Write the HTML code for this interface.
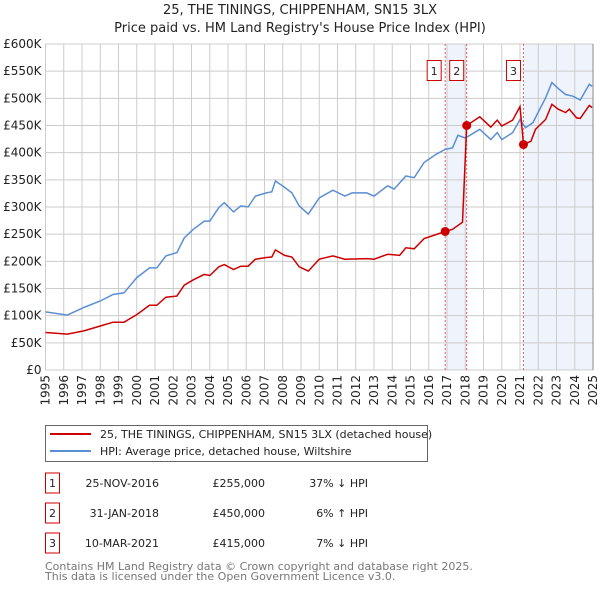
<!DOCTYPE html>
<html><head><meta charset="utf-8"><style>
body{margin:0;background:#fff;font-family:"DejaVu Sans","Liberation Sans",sans-serif;}
svg text{font-family:"DejaVu Sans","Liberation Sans",sans-serif;}
</style></head><body>
<svg id="chart" width="600" height="590" xmlns="http://www.w3.org/2000/svg">
<text x="300" y="14" text-anchor="middle" font-size="13" fill="#222">25, THE TININGS, CHIPPENHAM, SN15 3LX</text>
<text x="300" y="32" text-anchor="middle" font-size="13" fill="#222">Price paid vs. HM Land Registry's House Price Index (HPI)</text>
<g id="plot"></g>
<g>
<rect x="45.5" y="425.5" width="382" height="36" fill="#fff" stroke="#666"/>
<line x1="50" y1="434" x2="91" y2="434" stroke="#cc0000" stroke-width="2"/>
<text x="100" y="438" font-size="11" fill="#222">25, THE TININGS, CHIPPENHAM, SN15 3LX (detached house)</text>
<line x1="50" y1="451" x2="91" y2="451" stroke="#5b8fd4" stroke-width="2"/>
<text x="100" y="455" font-size="11" fill="#222">HPI: Average price, detached house, Wiltshire</text>
</g>
<g id="table" font-size="11" fill="#222"></g>
<text x="45" y="570" font-size="11" fill="#777">Contains HM Land Registry data © Crown copyright and database right 2025.</text>
<text x="45" y="580" font-size="11" fill="#777">This data is licensed under the Open Government Licence v3.0.</text>
</svg>
<script>
const hpiYears=[1995,1996.2,1997.1,1998,1998.7,1999.3,2000,2000.7,2001.1,2001.6,2002.2,2002.6,2003.1,2003.7,2004,2004.5,2004.8,2005.3,2005.7,2006.1,2006.5,2007.1,2007.4,2007.6,2008.1,2008.5,2008.9,2009.4,2010,2010.75,2011.4,2011.8,2012.6,2013,2013.75,2014.1,2014.75,2015.2,2015.75,2016.4,2016.9,2017.3,2017.6,2018,2018.8,2019.4,2019.75,2020,2020.6,2021,2021.3,2021.7,2022.4,2022.75,2023.1,2023.5,2023.9,2024.3,2024.8,2024.95];
const hpiValues=[107,101,115,127,139,142,170,188,188,210,216,243,259,274,274,299,308,291,302,300,320,326,328,348,336,326,302,287,317,331,320,326,326,320,339,333,357,354,382,397,406,409,432,427,443,424,437,424,437,461,446,455,501,529,518,507,504,497,526,522];
const paidYears=[1995,1996.2,1997.1,1998,1998.7,1999.3,2000,2000.7,2001.1,2001.6,2002.2,2002.6,2003.1,2003.7,2004,2004.5,2004.8,2005.3,2005.7,2006.1,2006.5,2007.1,2007.4,2007.6,2008.1,2008.5,2008.9,2009.4,2010,2010.75,2011.4,2012.6,2013,2013.75,2014.4,2014.75,2015.2,2015.75,2016.9,2017.3,2017.85,2018.08,2018.8,2019.4,2019.75,2020,2020.6,2021,2021.19,2021.6,2021.85,2022.4,2022.75,2023.1,2023.5,2023.7,2024.1,2024.3,2024.8,2024.95];
const paidValues=[69,66,72,81,88,88,102,119,119,134,136,156,166,176,174,190,194,185,191,191,204,207,208,221,211,208,190,182,204,210,204,205,204,213,211,225,223,242,255,259,272,450,466,447,460,449,460,485,415,421,443,461,489,480,474,480,464,463,487,483];
const saleYears=[2016.9,2018.08,2021.19];
const saleValues=[255,450,415];
const saleLabels=["1","2","3"];
const saleDates=["25-NOV-2016","31-JAN-2018","10-MAR-2021"];
const salePrices=["£255,000","£450,000","£415,000"];
const saleHpi=["37% ↓ HPI","6% ↑ HPI","7% ↓ HPI"];
const yTicks=[0,50,100,150,200,250,300,350,400,450,500,550,600];
const xTicks=[1995,1996,1997,1998,1999,2000,2001,2002,2003,2004,2005,2006,2007,2008,2009,2010,2011,2012,2013,2014,2015,2016,2017,2018,2019,2020,2021,2022,2023,2024,2025];

const NS="http://www.w3.org/2000/svg";
const X0=45.5,X1=593,Y0=370,Y1=44;
const xs=y=>X0+(y-1995)/30*(X1-X0);
const ys=v=>Y0-v/600*(Y0-Y1);
const plot=document.getElementById('plot');
function mk(t,a,p){const e=document.createElementNS(NS,t);for(const k in a)e.setAttribute(k,a[k]);(p||plot).appendChild(e);return e;}
// shading
let s1=mk('rect',{x:xs(saleYears[0]),y:Y1,width:xs(saleYears[1])-xs(saleYears[0]),height:Y0-Y1,fill:'#eef3fc'});


let s2=mk('rect',{x:xs(saleYears[2]),y:Y1,width:X1-xs(saleYears[2]),height:Y0-Y1,fill:'#eef3fc'});


// grid
yTicks.forEach(v=>{
 let l=mk('line',{x1:X0,x2:X1,y1:ys(v),y2:ys(v),stroke:'#ccc'});
 
 
 let t=mk('text',{x:X0-4,y:ys(v)+4,'text-anchor':'end','font-size':'12',fill:'#222'});
 
 
 t.textContent=v===0?'£0':'£'+v+'K';
});
xTicks.forEach(y=>{
 let l=mk('line',{x1:xs(y),x2:xs(y),y1:Y1,y2:Y0,stroke:'#ccc'});
 
 
 let t=mk('text',{x:0,y:0,'font-size':'12',fill:'#222','text-anchor':'end',transform:`translate(${xs(y)+4},${Y0+5}) rotate(-90)`});
 
 
 t.textContent=y;
});
mk('line',{x1:X1,x2:X1,y1:Y1,y2:Y0,stroke:'#888'});
// sale vlines
saleYears.forEach((y,i)=>{
 let l=mk('line',{x1:xs(y),x2:xs(y),y1:Y1,y2:Y0,stroke:'#e06060','stroke-dasharray':'2,2'});
 
 
 let bx=xs(y)-(i==0?11:i==1?10:10);
 let g=mk('g',{});
 
 
 mk('rect',{x:bx-7,y:60.5,width:14,height:20,fill:'#fff',stroke:'#cc0000'},g);
 let t=mk('text',{x:bx,y:75,'text-anchor':'middle','font-size':'11',fill:'#222'},g);t.textContent=saleLabels[i];
});
function path(xa,va,col,name){
 let d=xa.map((y,i)=>(i?'L':'M')+xs(y).toFixed(1)+','+ys(va[i]).toFixed(1)).join('');
 let p=mk('path',{d,fill:'none',stroke:col,'stroke-width':'1.5'});
 
 
}
path(hpiYears,hpiValues,'#5b8fd4','hpi-line');
path(paidYears,paidValues,'#cc0000','price-paid-line');
saleYears.forEach((y,i)=>{
 let c=mk('circle',{cx:xs(y),cy:ys(saleValues[i]),r:4.5,fill:'#cc0000'});
 
 
});
// table
const tb=document.getElementById('table');
saleYears.forEach((y,i)=>{
 const cy=483+i*30;
 let g=mk('g',{},tb);
 
 
 mk('rect',{x:45.5,y:cy-10,width:14,height:20,fill:'#fff',stroke:'#cc0000'},g);
 let a=mk('text',{x:52.5,y:cy+4,'text-anchor':'middle'},g);a.textContent=saleLabels[i];
 let b=mk('text',{x:159,y:cy+4,'text-anchor':'end'},g);b.textContent=saleDates[i];
 let c=mk('text',{x:265,y:cy+4,'text-anchor':'end'},g);c.textContent=salePrices[i];
 let d=mk('text',{x:368,y:cy+4,'text-anchor':'end'},g);d.textContent=saleHpi[i];
});
</script>
</body></html>
